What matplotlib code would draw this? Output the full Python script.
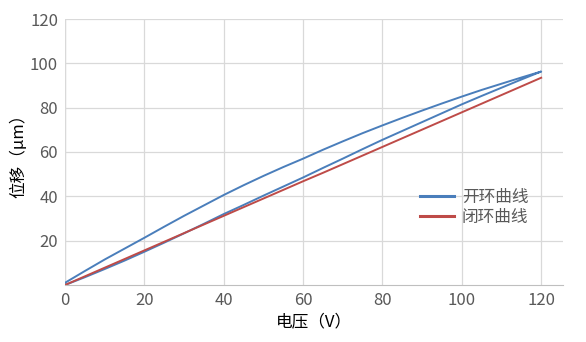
import matplotlib
matplotlib.use("Agg")
import matplotlib.pyplot as plt

plt.rcParams['font.family'] = ['Noto Sans CJK SC', 'DejaVu Sans']

voltage = [0, 5, 10, 15, 20, 25, 30, 35, 40, 45, 50, 55, 60, 65, 70, 75, 80, 85, 90, 95, 100, 105, 110, 115, 120]
open_up = [0, 3.5, 7.2, 11.0, 15.0, 19.1, 23.3, 27.6, 32.0, 36.1, 40.3, 44.4, 48.5, 52.8, 57.0, 61.3, 65.5, 69.5, 73.5, 77.5, 81.5, 85.3, 89.0, 92.7, 96.3]
open_down = [1.0, 6.3, 11.5, 16.4, 21.3, 26.3, 31.2, 35.9, 40.6, 45.0, 49.2, 53.2, 57.0, 61.0, 64.8, 68.5, 72.0, 75.4, 78.7, 81.9, 85.0, 88.0, 90.8, 93.6, 96.3]
closed = [0, 3.9, 7.8, 11.7, 15.6, 19.5, 23.4, 27.3, 31.2, 35.1, 39.0, 42.9, 46.8, 50.6, 54.5, 58.4, 62.3, 66.2, 70.1, 74.0, 77.9, 81.8, 85.7, 89.6, 93.5]

x_ticks = [0, 20, 40, 60, 80, 100, 120]
y_ticks = [20, 40, 60, 80, 100, 120]

fig = plt.figure(figsize=(5.86, 3.42), dpi=100)
ax = fig.add_axes([65/586, 1-285/342, (563-65)/586, (285-19)/342])

open_x = voltage + voltage[::-1]
open_y = open_up + open_down[::-1]
ax.plot(open_x, open_y, color='#4A7EBB', lw=1.4, label='开环曲线')
ax.plot(voltage, closed, color='#BE4B48', lw=1.4, label='闭环曲线')

ax.set_xlim(0, 125.5)
ax.set_ylim(0, 120)
ax.set_xticks(x_ticks)
ax.set_yticks(y_ticks)
ax.grid(True, color='#D9D9D9', lw=0.9)
ax.set_axisbelow(True)
for s in ['top', 'right', 'left']:
    ax.spines[s].set_visible(False)
ax.spines['bottom'].set_color('#BFBFBF')
ax.axvline(0, color='#D9D9D9', lw=0.9, zorder=0)
ax.tick_params(length=0, labelsize=12, labelcolor='#595959', pad=5)

ax.set_xlabel('电压（V）', fontsize=12, color='black', labelpad=3)
ax.set_ylabel('位移（μm）', fontsize=12, color='black', labelpad=2)

leg = ax.legend(loc='upper left', bbox_to_anchor=(0.70, 0.385), frameon=False,
                fontsize=12, handlelength=2.0, handletextpad=0.5,
                labelspacing=0.15, borderaxespad=0)
for t in leg.get_texts():
    t.set_color('#595959')
for l in leg.get_lines():
    l.set_linewidth(2.2)

fig.savefig('out.png', dpi=100)
